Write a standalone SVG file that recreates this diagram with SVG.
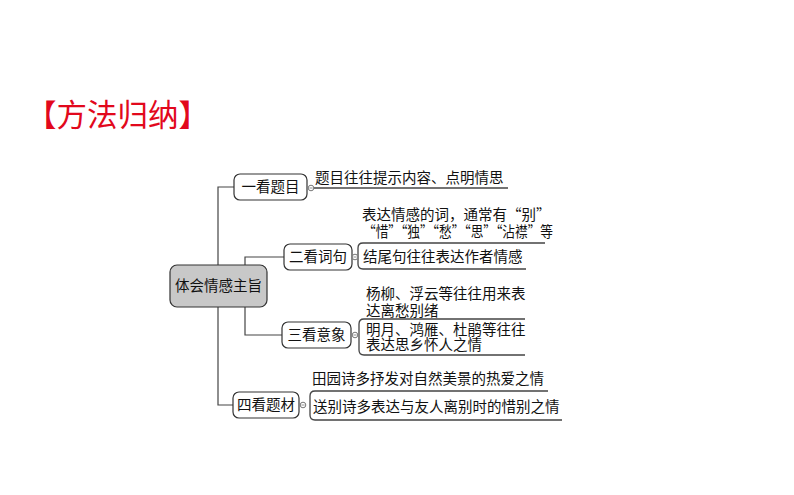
<svg xmlns="http://www.w3.org/2000/svg" width="794" height="495" viewBox="0 0 794 495">
<style>
text{font-family:"Noto Sans CJK SC","Noto Sans",sans-serif;fill:#111;font-size:14.5px}
.title{font-size:30.5px;fill:#e2081c}
.node{fill:#fff;stroke:#333;stroke-width:1.2}
.center{fill:#c8c8c8;stroke:#333;stroke-width:1.2}
.conn{fill:none;stroke:#444;stroke-width:1.2}
.ul{fill:none;stroke:#444;stroke-width:1.3}
.knob{fill:#fff;stroke:#777;stroke-width:1}
.minus{stroke:#777;stroke-width:0.8}
.lbl{text-anchor:middle}
</style>
<defs>
<g id="knob"><circle class="knob" cx="0" cy="0" r="2.8"/><path class="minus" d="M-1.6 0 H1.6"/></g>
</defs>
<rect width="794" height="495" fill="#fff"/>
<text class="title" x="26" y="126">【方法归纳】</text>
<g id="connectors">
<path class="conn" d="M218 265 V187 H234"/>
<path class="conn" d="M245 265 V257 H284"/>
<path class="conn" d="M245 307 V335 H282"/>
<path class="conn" d="M218 307 V405 H233"/>
<path class="ul" d="M314 188 H508"/>
<path class="ul" d="M545 243 H363 Q358 243 358 248 V264 Q358 269 363 269 H526"/>
<path class="ul" d="M525 319 H364 Q359 319 359 324 V350 Q359 355 364 355 H525"/>
<path class="ul" d="M548 391 H315 Q310 391 310 396 V415 Q310 420 315 420 H562"/>
</g>
<g id="center">
<rect class="center" x="170" y="265" width="97" height="42" rx="7"/>
<text class="lbl" x="218.5" y="291">体会情感主旨</text>
</g>
<g id="n1">
<rect class="node" x="234" y="174" width="73" height="26" rx="6"/>
<text class="lbl" x="270.5" y="192">一看题目</text>
<use href="#knob" x="311" y="188"/>
</g>
<g id="n2">
<rect class="node" x="284" y="244" width="68" height="26" rx="6"/>
<text class="lbl" x="318" y="262">二看词句</text>
<use href="#knob" x="355" y="257"/>
</g>
<g id="n3">
<rect class="node" x="282" y="322" width="69" height="26" rx="6"/>
<text class="lbl" x="316.5" y="340">三看意象</text>
<use href="#knob" x="355" y="335"/>
</g>
<g id="n4">
<rect class="node" x="233" y="392" width="66" height="26" rx="6"/>
<text class="lbl" x="266" y="410">四看题材</text>
<use href="#knob" x="303" y="405"/>
</g>
<g id="c1"><text x="315" y="183">题目往往提示内容、点明情思</text></g>
<g id="c2a"><text><tspan x="362" y="220">表达情感的词，通常有“别”</tspan><tspan x="363" y="237" textLength="190" lengthAdjust="spacingAndGlyphs">“惜”“独”“愁”“思”“沾襟”等</tspan></text></g>
<g id="c2b"><text x="363" y="262">结尾句往往表达作者情感</text></g>
<g id="c3a"><text><tspan x="366" y="299">杨柳、浮云等往往用来表</tspan><tspan x="366" y="316">达离愁别绪</tspan></text></g>
<g id="c3b"><text><tspan x="366" y="335">明月、鸿雁、杜鹃等往往</tspan><tspan x="366" y="350">表达思乡怀人之情</tspan></text></g>
<g id="c4a"><text x="312" y="384">田园诗多抒发对自然美景的热爱之情</text></g>
<g id="c4b"><text x="313" y="412">送别诗多表达与友人离别时的惜别之情</text></g>
</svg>
